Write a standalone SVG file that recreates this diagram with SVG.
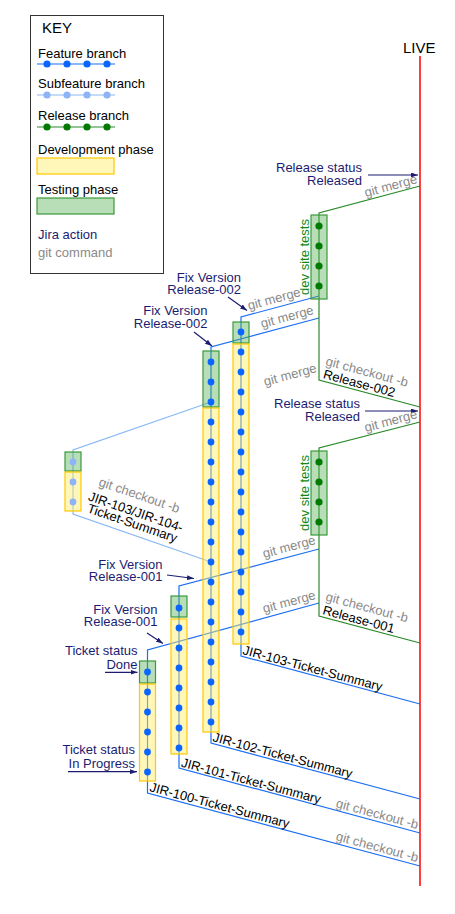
<svg xmlns="http://www.w3.org/2000/svg" width="455" height="914" viewBox="0 0 455 914">
<defs>
<marker id="ah" viewBox="0 0 10 7" refX="10" refY="3.5" markerWidth="7" markerHeight="4.9" orient="auto" markerUnits="userSpaceOnUse"><path d="M0,0 L10,3.5 L0,7 z" fill="#1c1c70"/></marker>
</defs>
<style>
text{font-family:"Liberation Sans",Arial,Helvetica,sans-serif;font-size:13px;fill:#000}
.jira{fill:#1c1c70}
.git{fill:#8a8a8a}
.dst{fill:#118811}
.e{text-anchor:end}
.fb{fill:none;stroke:#1a6ef5;stroke-width:1.2}
.sb{fill:none;stroke:#8ab8f5;stroke-width:1.2}
.rb{fill:none;stroke:#2a8a2a;stroke-width:1.2}
.dev{fill:#ffee66;fill-opacity:.45;stroke:#ffc800;stroke-width:1.2}
.test{fill:#55b055;fill-opacity:.42;stroke:#3a9a3a;stroke-width:1.2}
.fd{fill:#0a66ff}
.sd{fill:#8cb4f6}
.rd{fill:#007a00}
.arr{fill:none;stroke:#1c1c70;stroke-width:1.2;marker-end:url(#ah)}
</style>
<rect x="0" y="0" width="455" height="914" fill="#fff"/>

<g id="key">
<rect x="30.5" y="15.5" width="133" height="258" fill="#fff" stroke="#333" stroke-width="1"/>
<text x="42" y="33" style="font-size:15px">KEY</text>
<text x="38" y="58">Feature branch</text>
<line x1="37" y1="64" x2="115" y2="64" class="fb"/>
<circle cx="47" cy="64" r="3.6" class="fd"/><circle cx="67" cy="64" r="3.6" class="fd"/><circle cx="87" cy="64" r="3.6" class="fd"/><circle cx="107" cy="64" r="3.6" class="fd"/>
<text x="38" y="88">Subfeature branch</text>
<line x1="37" y1="95" x2="115" y2="95" class="sb"/>
<circle cx="47" cy="95" r="3.6" class="sd"/><circle cx="67" cy="95" r="3.6" class="sd"/><circle cx="87" cy="95" r="3.6" class="sd"/><circle cx="107" cy="95" r="3.6" class="sd"/>
<text x="38" y="120">Release branch</text>
<line x1="37" y1="127" x2="115" y2="127" class="rb"/>
<circle cx="47" cy="127" r="3.6" class="rd"/><circle cx="67" cy="127" r="3.6" class="rd"/><circle cx="87" cy="127" r="3.6" class="rd"/><circle cx="107" cy="127" r="3.6" class="rd"/>
<text x="38" y="154">Development phase</text>
<rect x="37" y="158" width="77" height="16" class="dev"/>
<text x="38" y="194">Testing phase</text>
<rect x="37" y="198" width="77" height="16" class="test"/>
<text x="38" y="239" class="jira">Jira action</text>
<text x="38" y="257" class="git">git command</text>
</g>

<g id="live">
<text x="403" y="53" style="font-size:15px">LIVE</text>
<line x1="420" y1="56" x2="420" y2="886" stroke="#ff0000" stroke-width="1.5"/>
</g>

<g id="connectors">
<polyline class="fb" points="319,296 241,317 241,656 420,704"/>
<polyline class="fb" points="319,318 211,347 211,743 420,799"/>
<polyline class="fb" points="319,549 179,586 179,768 420,833"/>
<polyline class="fb" points="319,603 147.5,650 147.5,793 420,866"/>
<polyline class="sb" points="211,402 73,450 73,514 211,562"/>
<polyline class="rb" points="420,407 319,380 319,213 420,186"/>
<polyline class="rb" points="420,643 319,616 319,448 420,422"/>
<line class="arr" x1="368" y1="175" x2="418" y2="175"/>
<line class="arr" x1="365" y1="411" x2="418" y2="411"/>
<line class="arr" x1="228" y1="297" x2="247" y2="310.5"/>
<line class="arr" x1="194" y1="332" x2="212" y2="346"/>
<line class="arr" x1="167" y1="575" x2="194" y2="578.5"/>
<line class="arr" x1="147" y1="633" x2="163" y2="643.5"/>
<line class="arr" x1="105" y1="672.3" x2="137.5" y2="672.3"/>
<line class="arr" x1="68" y1="771.7" x2="137" y2="771.7"/>
</g>

<g id="jir-103">
<rect x="233" y="322" width="16" height="21" class="test"/>
<rect x="233" y="344" width="16" height="300" class="dev"/>
<circle cx="241" cy="332" r="3.4" class="fd"/><circle cx="241" cy="352" r="3.4" class="fd"/><circle cx="241" cy="372" r="3.4" class="fd"/><circle cx="241" cy="392" r="3.4" class="fd"/><circle cx="241" cy="412" r="3.4" class="fd"/><circle cx="241" cy="432" r="3.4" class="fd"/><circle cx="241" cy="452" r="3.4" class="fd"/><circle cx="241" cy="472" r="3.4" class="fd"/><circle cx="241" cy="492" r="3.4" class="fd"/><circle cx="241" cy="512" r="3.4" class="fd"/><circle cx="241" cy="532" r="3.4" class="fd"/><circle cx="241" cy="552" r="3.4" class="fd"/><circle cx="241" cy="572" r="3.4" class="fd"/><circle cx="241" cy="592" r="3.4" class="fd"/><circle cx="241" cy="612" r="3.4" class="fd"/><circle cx="241" cy="632" r="3.4" class="fd"/>
<text transform="translate(242,654) rotate(15)">JIR-103-Ticket-Summary</text>
</g>

<g id="jir-102">
<rect x="203" y="351" width="16" height="56" class="test"/>
<rect x="203" y="408" width="16" height="324" class="dev"/>
<circle cx="211" cy="362" r="3.4" class="fd"/><circle cx="211" cy="382" r="3.4" class="fd"/><circle cx="211" cy="402" r="3.4" class="fd"/><circle cx="211" cy="422" r="3.4" class="fd"/><circle cx="211" cy="442" r="3.4" class="fd"/><circle cx="211" cy="462" r="3.4" class="fd"/><circle cx="211" cy="482" r="3.4" class="fd"/><circle cx="211" cy="502" r="3.4" class="fd"/><circle cx="211" cy="522" r="3.4" class="fd"/><circle cx="211" cy="542" r="3.4" class="fd"/><circle cx="211" cy="562" r="3.4" class="fd"/><circle cx="211" cy="582" r="3.4" class="fd"/><circle cx="211" cy="602" r="3.4" class="fd"/><circle cx="211" cy="622" r="3.4" class="fd"/><circle cx="211" cy="642" r="3.4" class="fd"/><circle cx="211" cy="662" r="3.4" class="fd"/><circle cx="211" cy="682" r="3.4" class="fd"/><circle cx="211" cy="702" r="3.4" class="fd"/><circle cx="211" cy="722" r="3.4" class="fd"/>
<text transform="translate(212,741) rotate(15)">JIR-102-Ticket-Summary</text>
</g>

<g id="jir-101">
<rect x="171" y="596" width="16" height="21" class="test"/>
<rect x="171" y="619" width="16" height="135" class="dev"/>
<circle cx="179" cy="608" r="3.4" class="fd"/><circle cx="179" cy="628" r="3.4" class="fd"/><circle cx="179" cy="648" r="3.4" class="fd"/><circle cx="179" cy="668" r="3.4" class="fd"/><circle cx="179" cy="688" r="3.4" class="fd"/><circle cx="179" cy="708" r="3.4" class="fd"/><circle cx="179" cy="728" r="3.4" class="fd"/><circle cx="179" cy="748" r="3.4" class="fd"/>
<text transform="translate(180.5,766.5) rotate(15)">JIR-101-Ticket-Summary</text>
</g>

<g id="jir-100">
<rect x="139.5" y="661" width="16" height="22" class="test"/>
<rect x="139.5" y="684" width="16" height="97" class="dev"/>
<circle cx="147.5" cy="672" r="3.4" class="fd"/><circle cx="147.5" cy="692" r="3.4" class="fd"/><circle cx="147.5" cy="712" r="3.4" class="fd"/><circle cx="147.5" cy="732" r="3.4" class="fd"/><circle cx="147.5" cy="752" r="3.4" class="fd"/><circle cx="147.5" cy="772" r="3.4" class="fd"/>
<text transform="translate(149,791) rotate(15)">JIR-100-Ticket-Summary</text>
</g>

<g id="jir-103-104">
<rect x="65" y="452" width="16" height="19" class="test"/>
<rect x="65" y="472" width="16" height="39" class="dev"/>
<circle cx="73" cy="462" r="3.4" class="sd"/><circle cx="73" cy="482" r="3.4" class="sd"/><circle cx="73" cy="502" r="3.4" class="sd"/>
<text transform="translate(98,485.5) rotate(19)" class="git">git checkout -b</text>
<text transform="translate(87.5,500) rotate(19)">JIR-103/JIR-104-</text>
<text transform="translate(86.5,512) rotate(19)">Ticket-Summary</text>
</g>

<g id="release-002">
<rect x="311" y="215" width="16" height="84" class="test"/>
<circle cx="319" cy="226" r="3.6" class="rd"/><circle cx="319" cy="246" r="3.6" class="rd"/><circle cx="319" cy="266" r="3.6" class="rd"/><circle cx="319" cy="286" r="3.6" class="rd"/>
<text transform="translate(308.5,257) rotate(-90)" class="dst" text-anchor="middle">dev site tests</text>
<text transform="translate(325,365) rotate(15)" class="git">git checkout -b</text>
<text transform="translate(322.5,378) rotate(15)">Release-002</text>
<text transform="translate(418,183) rotate(-15)" class="git e">git merge</text>
</g>

<g id="release-001">
<rect x="311" y="451" width="16" height="84" class="test"/>
<circle cx="319" cy="462" r="3.6" class="rd"/><circle cx="319" cy="482" r="3.6" class="rd"/><circle cx="319" cy="502" r="3.6" class="rd"/><circle cx="319" cy="522" r="3.6" class="rd"/>
<text transform="translate(308.5,493) rotate(-90)" class="dst" text-anchor="middle">dev site tests</text>
<text transform="translate(325,600.5) rotate(15)" class="git">git checkout -b</text>
<text transform="translate(322,614) rotate(15)">Release-001</text>
<text transform="translate(418,418) rotate(-15)" class="git e">git merge</text>
</g>

<g id="git-labels">
<text transform="translate(249,310) rotate(-15)" class="git">git merge</text>
<text transform="translate(262,328) rotate(-15)" class="git">git merge</text>
<text transform="translate(265,386) rotate(-15)" class="git">git merge</text>
<text transform="translate(264,558) rotate(-15)" class="git">git merge</text>
<text transform="translate(264,613) rotate(-15)" class="git">git merge</text>
<text transform="translate(417,829) rotate(15)" class="git e">git checkout -b</text>
<text transform="translate(417,862) rotate(15)" class="git e">git checkout -b</text>
</g>

<g id="jira-labels">
<text x="362" y="172" class="jira e">Release status</text>
<text x="362" y="185" class="jira e">Released</text>
<text x="360" y="408" class="jira e">Release status</text>
<text x="360" y="421" class="jira e">Released</text>
<text x="241" y="281.5" class="jira e">Fix Version</text>
<text x="241" y="294" class="jira e">Release-002</text>
<text x="207.5" y="314.5" class="jira e">Fix Version</text>
<text x="207.5" y="327.5" class="jira e">Release-002</text>
<text x="162.5" y="568.5" class="jira e">Fix Version</text>
<text x="162.5" y="581" class="jira e">Release-001</text>
<text x="157.5" y="613.5" class="jira e">Fix Version</text>
<text x="157.5" y="626" class="jira e">Release-001</text>
<text x="137.5" y="655" class="jira e">Ticket status</text>
<text x="137.5" y="668.5" class="jira e">Done</text>
<text x="135" y="754" class="jira e">Ticket status</text>
<text x="135" y="767.5" class="jira e">In Progress</text>
</g>
</svg>
